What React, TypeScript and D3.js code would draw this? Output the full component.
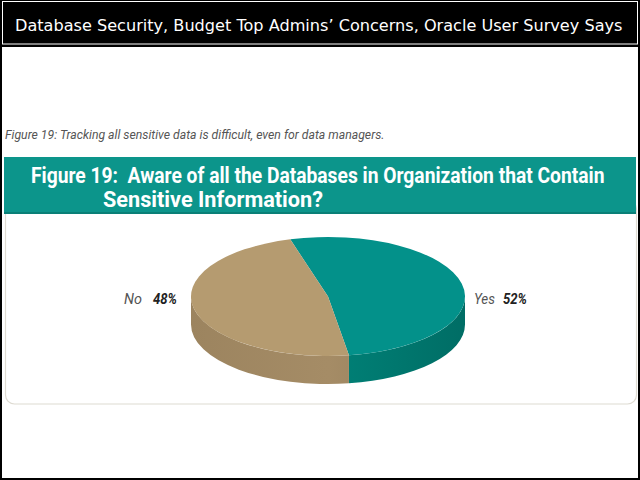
import React, { useLayoutEffect, useRef, useState } from "react";
import * as d3 from "d3";

const headline = "Database Security, Budget Top Admins\u2019 Concerns, Oracle User Survey Says";
const caption = "Figure 19: Tracking all sensitive data is difficult, even for data managers.";
const titleLines = ["Figure 19:\u00a0\u00a0Aware of all the Databases in Organization that Contain", "Sensitive Information?"];
const categories = ["Yes", "No"];
const values = [52, 48];
const percentLabels = ["52%", "48%"];

const W = 640;
const H = 480;
const cx = 328;
const cy = 296.5;
const rx = 137;
const ry = 59.5;
const depth = 28;
const topColors = ["#03918a", "#b59b70"];
const sideGradIds = ["sideTeal", "sideTan"];

function pt(phi: number, dy = 0): [number, number] {
  return [cx + rx * Math.cos(phi), cy + ry * Math.sin(phi) + dy];
}

type FitProps = {
  x: number;
  y: number;
  width: number;
  children: React.ReactNode;
  [k: string]: any;
};

function FitText({ x, y, width, children, ...rest }: FitProps) {
  const ref = useRef<SVGTextElement>(null);
  const [s, setS] = useState(1);
  useLayoutEffect(() => {
    if (ref.current) {
      const w = ref.current.getComputedTextLength();
      if (w > 0) setS(width / w);
    }
  }, [width, children]);
  return (
    <text ref={ref} x={0} y={0} transform={`translate(${x},${y}) scale(${s},1)`} {...rest}>
      {children}
    </text>
  );
}

export default function App() {
  const startDeg = 344;
  const pie = d3
    .pie<number>()
    .sort(null)
    .startAngle((startDeg * Math.PI) / 180)
    .endAngle(((startDeg + 360) * Math.PI) / 180);
  const arcs = pie(values);

  const slices = arcs.map((a, i) => {
    const p0 = a.startAngle - Math.PI / 2;
    const p1 = a.endAngle - Math.PI / 2;
    const [x0, y0] = pt(p0);
    const [x1, y1] = pt(p1);
    const large = p1 - p0 > Math.PI ? 1 : 0;
    const top = `M${cx},${cy}L${x0},${y0}A${rx},${ry} 0 ${large} 1 ${x1},${y1}Z`;
    const sides: string[] = [];
    const windows = [
      [0, Math.PI],
      [2 * Math.PI, 3 * Math.PI],
      [4 * Math.PI, 5 * Math.PI],
    ];
    windows.forEach(([w0, w1]) => {
      const s = Math.max(p0, w0);
      const e = Math.min(p1, w1);
      if (e > s) {
        const [sx, sy] = pt(s);
        const [ex, ey] = pt(e);
        const [ex2, ey2] = pt(e, depth);
        const [sx2, sy2] = pt(s, depth);
        sides.push(
          `M${sx},${sy}A${rx},${ry} 0 0 1 ${ex},${ey}L${ex2},${ey2}A${rx},${ry} 0 0 0 ${sx2},${sy2}Z`
        );
      }
    });
    return { top, sides, i };
  });

  const labelY = 304;
  const labelFont = "'Liberation Sans Narrow', 'Roboto', 'Liberation Sans', sans-serif";

  return (
    <svg
      width={W}
      height={H}
      style={{ position: "absolute", left: 0, top: 0, background: "#fff" }}
      xmlns="http://www.w3.org/2000/svg"
    >
      <defs>
        <linearGradient id="sideTeal" gradientUnits="userSpaceOnUse" x1={cx - rx} x2={cx + rx} y1={0} y2={0}>
          <stop offset="0%" stopColor="#00867c" />
          <stop offset="50%" stopColor="#008177" />
          <stop offset="100%" stopColor="#006d65" />
        </linearGradient>
        <linearGradient id="sideTan" gradientUnits="userSpaceOnUse" x1={cx - rx} x2={cx + rx} y1={0} y2={0}>
          <stop offset="0%" stopColor="#9c845f" />
          <stop offset="50%" stopColor="#a58c66" />
          <stop offset="100%" stopColor="#8e7756" />
        </linearGradient>
      </defs>

      {/* page background and outer border */}
      <rect x={1} y={1} width={W - 2} height={H - 2} fill="#fff" stroke="#000" strokeWidth={2} />

      {/* headline bar */}
      <rect x={0} y={0} width={W} height={47} fill="#000" />
      <rect x={2.5} y={1.5} width={W - 5} height={42.5} fill="none" stroke="#fff" strokeWidth={1} />
      <FitText x={15} y={31} width={608} fill="#fff" fontFamily="'DejaVu Sans', Verdana, sans-serif" fontSize={16.5}>
        {headline}
      </FitText>

      {/* caption */}
      <FitText x={5} y={139} width={380} fill="#555" fontStyle="italic" fontFamily={labelFont} fontSize={12.5}>
        {caption}
      </FitText>

      {/* panel */}
      <rect x={5.5} y={200} width={631} height={204} rx={9} fill="#fff" stroke="#dedbd2" strokeWidth={1.2} />

      {/* teal title band */}
      <rect x={4} y={157} width={632} height={57} fill="#0c958b" />
      <rect x={4} y={212} width={632} height={2} fill="#0a7f77" />
      <FitText x={31} y={183} width={574} fill="#fff" fontWeight="bold" fontFamily={labelFont} fontSize={22}>
        {titleLines[0]}
      </FitText>
      <FitText x={103} y={207} width={220} fill="#fff" fontWeight="bold" fontFamily={labelFont} fontSize={22}>
        {titleLines[1]}
      </FitText>

      {/* pie sides */}
      {slices.map((s) =>
        s.sides.map((d, k) => (
          <path key={`side-${s.i}-${k}`} d={d} fill={`url(#${sideGradIds[s.i]})`} />
        ))
      )}
      {/* pie tops */}
      {slices.map((s) => (
        <path key={`top-${s.i}`} d={s.top} fill={topColors[s.i]} />
      ))}

      {/* labels */}
      <g fontFamily={labelFont} fontStyle="italic" fontSize={14}>
        <FitText x={124} y={labelY} width={18} fill="#555">
          {categories[1]}
        </FitText>
        <FitText x={153} y={labelY} width={24} fill="#222" fontWeight="bold">
          {percentLabels[1]}
        </FitText>
        <FitText x={474} y={labelY} width={21} fill="#555">
          {categories[0]}
        </FitText>
        <FitText x={503} y={labelY} width={24} fill="#222" fontWeight="bold">
          {percentLabels[0]}
        </FitText>
      </g>
    </svg>
  );
}
